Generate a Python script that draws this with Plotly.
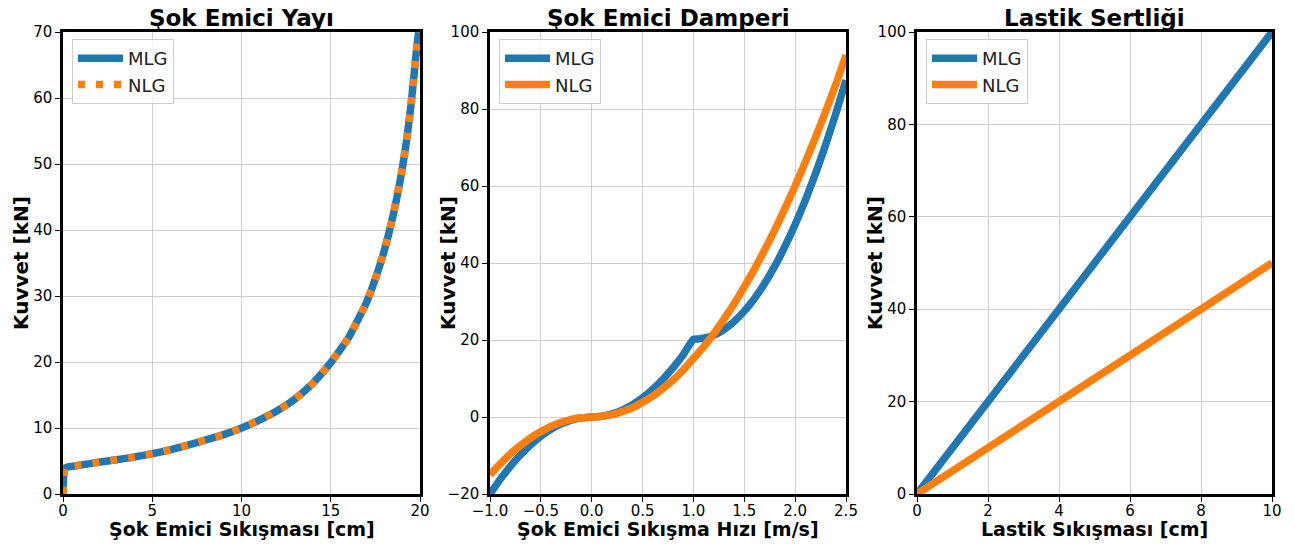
import plotly.graph_objects as go

# ---- Data ----
# Chart 1: Şok Emici Yayı (shock absorber spring)
spring_x = [0, 0.1, 0.3, 1, 2, 3, 4, 5, 6, 7, 8, 9, 10, 11, 12, 13, 14, 15, 16, 17,
            17.5, 18, 18.5, 19, 19.25, 19.5, 19.75, 20]
spring_mlg = [0, 3.9, 4.1, 4.4, 4.8, 5.2, 5.6, 6.1, 6.7, 7.4, 8.2, 9.0, 10.0, 11.2, 12.6, 14.4,
              16.8, 19.9, 23.7, 29.0, 32.6, 36.9, 42.3, 49.2, 53.6, 59.0, 65.8, 72.0]
spring_nlg = list(spring_mlg)

# Chart 2: Şok Emici Damperi (shock absorber damper)
damper_x_mlg = [-1.0, -0.9, -0.8, -0.7, -0.6, -0.5, -0.4, -0.3, -0.2, -0.1, 0.0,
                0.1, 0.2, 0.3, 0.4, 0.5, 0.6, 0.7, 0.8, 0.9, 1.0, 1.05,
                1.1, 1.2, 1.3, 1.4, 1.5, 1.6, 1.7, 1.8, 1.9, 2.0, 2.1, 2.2, 2.3, 2.4, 2.5]
damper_mlg = [-20.0, -16.2, -12.8, -9.8, -7.2, -5.0, -3.2, -1.8, -0.8, -0.2, 0.0,
              0.2, 0.8, 1.8, 3.2, 5.0, 7.2, 9.8, 12.8, 16.2, 20.2, 20.3,
              20.5, 21.2, 22.7, 24.8, 27.5, 30.8, 34.7, 39.2, 44.3, 50.0, 56.3, 63.2, 70.7, 78.8, 87.5]
damper_x_nlg = [-1.0, -0.9, -0.8, -0.7, -0.6, -0.5, -0.4, -0.3, -0.2, -0.1, 0.0,
                0.1, 0.2, 0.3, 0.4, 0.5, 0.6, 0.7, 0.8, 0.9, 1.0,
                1.1, 1.2, 1.3, 1.4, 1.5, 1.6, 1.7, 1.8, 1.9, 2.0, 2.1, 2.2, 2.3, 2.4, 2.5]
damper_nlg = [-15.0, -12.2, -9.6, -7.4, -5.4, -3.8, -2.4, -1.4, -0.6, -0.2, 0.0,
              0.2, 0.6, 1.4, 2.4, 3.8, 5.4, 7.4, 9.6, 12.2, 15.2,
              18.2, 21.6, 25.4, 29.4, 33.8, 38.4, 43.4, 48.6, 54.2, 60.0, 66.2, 72.6, 79.4, 86.4, 94.0]

# Chart 3: Lastik Sertliği (tyre stiffness)
tyre_x = [0, 10]
tyre_mlg = [0, 100]
tyre_nlg = [0, 50]

titles = ["Şok Emici Yayı", "Şok Emici Damperi", "Lastik Sertliği"]
xtitles = ["Şok Emici Sıkışması [cm]", "Şok Emici Sıkışma Hızı [m/s]", "Lastik Sıkışması [cm]"]
ytitle = "Kuvvet [kN]"

BLUE = "#1f77b4"
ORANGE = "#ff7f0e"
FONT = "DejaVu Sans"
W, H = 1295, 546
LW = 7.5

# target pixel geometry of plot areas
px_x = [(63, 420), (490, 846), (917, 1272)]
px_y = (32, 494)

def fx(p):
    return p / W

def fy(p):
    return 1 - p / H

fig = go.Figure()

# chart 1
fig.add_trace(go.Scatter(x=spring_x, y=spring_mlg, mode="lines", name="MLG", line_shape="spline",
                         line=dict(color=BLUE, width=LW, smoothing=0.4), xaxis="x", yaxis="y", legend="legend"))
fig.add_trace(go.Scatter(x=spring_x, y=spring_nlg, mode="lines", name="NLG", line_shape="spline",
                         line=dict(color=ORANGE, width=LW, dash="7px,11px", smoothing=0.4),
                         xaxis="x", yaxis="y", legend="legend"))
# chart 2
fig.add_trace(go.Scatter(x=damper_x_mlg, y=damper_mlg, mode="lines", name="MLG", line_shape="spline",
                         line=dict(color=BLUE, width=LW, smoothing=0.5), xaxis="x2", yaxis="y2", legend="legend2"))
fig.add_trace(go.Scatter(x=damper_x_nlg, y=damper_nlg, mode="lines", name="NLG", line_shape="spline",
                         line=dict(color=ORANGE, width=LW, smoothing=0.5), xaxis="x2", yaxis="y2", legend="legend2"))
# chart 3
fig.add_trace(go.Scatter(x=tyre_x, y=tyre_mlg, mode="lines", name="MLG",
                         line=dict(color=BLUE, width=LW), xaxis="x3", yaxis="y3", legend="legend3"))
fig.add_trace(go.Scatter(x=tyre_x, y=tyre_nlg, mode="lines", name="NLG",
                         line=dict(color=ORANGE, width=LW), xaxis="x3", yaxis="y3", legend="legend3"))

ydom = [fy(px_y[1]), fy(px_y[0])]

def axis_common():
    return dict(showline=True, linecolor="black", linewidth=2.5, mirror=True,
                ticks="outside", ticklen=5, tickwidth=1.3, tickcolor="black",
                showgrid=True, gridcolor="#cfcfcf", gridwidth=1, zeroline=False,
                tickfont=dict(family=FONT, size=15, color="black"), automargin=False)

xranges = [[0, 20], [-1, 2.5], [0, 10]]
xdticks = [5, 0.5, 2]
xfmt = ["", ".1f", ""]
yranges = [[0, 70], [-20, 100], [0, 100]]
ydticks = [10, 20, 20]

layout = dict(width=W, height=H, margin=dict(l=0, r=0, t=0, b=0),
              paper_bgcolor="white", plot_bgcolor="white",
              font=dict(family=FONT, color="black"))

annotations = []
for i in range(3):
    sx = "" if i == 0 else str(i + 1)
    xd = [fx(px_x[i][0]), fx(px_x[i][1])]
    layout["xaxis" + sx] = dict(domain=xd, range=xranges[i], dtick=xdticks[i], tick0=0,
                                tickformat=xfmt[i], anchor="y" + sx, ticklabelstandoff=-4,
                                **axis_common())
    layout["yaxis" + sx] = dict(domain=ydom, range=yranges[i], dtick=ydticks[i], tick0=0,
                                anchor="x" + sx, **axis_common())
    cx = (xd[0] + xd[1]) / 2
    annotations.append(dict(text="<b>%s</b>" % titles[i], x=cx, y=fy(18), xref="paper", yref="paper",
                            xanchor="center", yanchor="middle", showarrow=False,
                            font=dict(family=FONT, size=23, color="black")))
    annotations.append(dict(text="<b>%s</b>" % xtitles[i], x=cx, y=fy(529), xref="paper", yref="paper",
                            xanchor="center", yanchor="middle", showarrow=False,
                            font=dict(family=FONT, size=19, color="black")))
    annotations.append(dict(text="<b>%s</b>" % ytitle, x=fx(px_x[i][0] - 42), y=(ydom[0] + ydom[1]) / 2,
                            xref="paper", yref="paper", textangle=-90,
                            xanchor="center", yanchor="middle", showarrow=False,
                            font=dict(family=FONT, size=20, color="black")))
    lname = "legend" if i == 0 else "legend%d" % (i + 1)
    layout[lname] = dict(x=fx(px_x[i][0] + 9), y=fy(39), xanchor="left", yanchor="top",
                         xref="paper", yref="paper",
                         bgcolor="rgba(255,255,255,0.8)", bordercolor="#cccccc", borderwidth=1,
                         font=dict(family=FONT, size=18, color="#222222"),
                         tracegroupgap=0, itemwidth=45)

layout["annotations"] = annotations
fig.update_layout(**layout)
fig.update_layout(showlegend=True)

# remove the default page margin so the figure fills the window exactly
fig.write_html("out.html", config={"displayModeBar": False},
               post_script="document.body.style.margin='0';document.body.style.overflow='hidden';")
